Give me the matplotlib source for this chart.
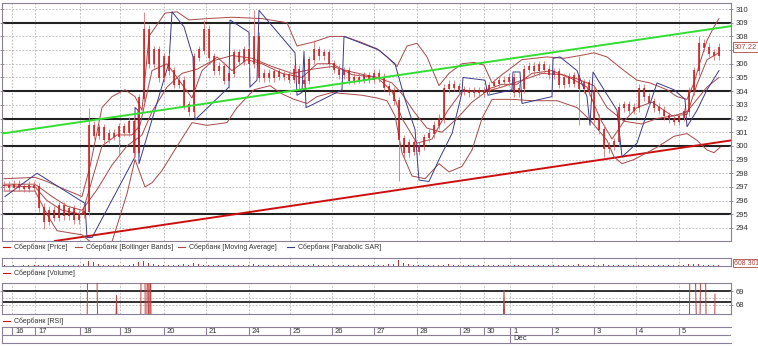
import matplotlib.pyplot as plt
from matplotlib.lines import Line2D
import numpy as np

W, H = 758, 346

# ---- data (x axis = time slot position, 0..729) ----
day_pos = [10, 33, 78, 118, 162, 204, 247, 288, 330, 372, 415, 458, 482, 508, 550, 592, 634, 677]
day_lab = ["16", "17", "18", "19", "20", "21", "24", "25", "26", "27", "28", "29", "30",
           "1", "2", "3", "4", "5"]

# close of each price bar (one bar every 5 slots)
close = [297.1, 297.0, 297.2, 297.0, 296.9, 297.1, 297.0,
         295.5, 294.5, 295.3, 294.8, 295.6, 294.9, 295.4, 294.6, 295.0, 295.2,
         301.5, 300.8, 301.3, 300.5, 300.9, 300.7, 301.4, 301.0, 301.8, 299.5, 303.5,
         308.5, 306.0, 307.0, 305.0, 306.5, 305.5, 304.5, 304.8, 303.0, 302.5,
         306.5, 307.0, 308.5, 306.5, 305.5, 305.8, 304.8, 305.3, 306.8, 306.2, 307.0, 306.0, 308.0,
         305.0, 305.3, 305.0, 305.4, 305.1, 305.2, 304.9, 305.6, 304.6, 304.8,
         306.3, 307.0, 306.6, 306.8, 306.0, 305.6, 305.2, 305.5, 304.8, 305.0, 304.9, 305.1,
         304.9, 305.3, 305.0,
         304.3, 304.0, 303.3, 300.5, 299.5, 300.2, 299.6, 300.0, 300.6, 300.9, 301.5, 302.0,
         304.2, 304.5, 304.3, 304.1, 304.0, 303.9, 304.0, 303.9, 304.0, 304.4, 304.6, 304.8,
         304.7, 305.0,
         303.9, 304.2, 305.6, 305.8, 305.5, 305.9, 305.6, 305.2, 305.4, 304.5, 305.0, 304.6,
         305.1, 304.2, 304.6, 304.0,
         302.0, 301.2, 299.8, 300.0, 300.3, 302.8, 303.0, 302.6, 302.8, 304.2, 303.6, 303.2,
         302.8, 302.6, 302.2, 302.0, 301.8, 302.1, 302.5,
         304.0, 305.5, 307.5, 307.2, 306.8, 306.6, 307.2]
hi_bar = [17, 28, 40, 50, 62, 115, 139]
hi_val = [302.8, 309.8, 309.2, 309.9, 307.7, 306.6, 308.0]
lo_bar = [8, 23, 26, 45, 59, 79, 115, 120]
lo_val = [293.9, 299.4, 299.1, 304.2, 304.1, 297.4, 301.5, 299.2]

bb_up_x = [2, 33, 45, 60, 80, 88, 100, 110, 123, 133, 140, 147, 163, 175, 187, 205, 230, 260,
           285, 295, 312, 328, 342, 358, 375, 385, 395, 405, 415, 425, 437, 447, 460, 472, 482,
           490, 500, 520, 545, 562, 578, 592, 605, 622, 635, 648, 665, 675, 685, 692, 698, 705,
           712, 717]
bb_up = [297.6, 297.7, 297.4, 296.9, 296.3, 298.5, 302.8, 303.6, 304.1, 303.6, 302.6, 308.0,
         309.7, 309.8, 309.2, 309.3, 309.4, 309.3, 309.0, 307.3, 307.6, 308.0, 308.0, 307.6,
         307.1, 306.5, 305.8, 307.3, 307.5, 306.5, 304.4, 305.3, 306.0, 306.1, 305.9, 304.6,
         305.2, 306.3, 306.5, 306.4, 306.6, 306.8, 306.5, 305.5, 304.8, 304.6, 304.1, 303.6,
         303.4, 304.6, 306.1, 307.7, 308.7, 309.3]
bb_mid_x = [2, 33, 50, 65, 80, 95, 110, 125, 140, 150, 165, 180, 195, 210, 230, 250, 270, 290,
            310, 330, 350, 375, 390, 400, 412, 425, 440, 455, 470, 485, 500, 520, 540, 560, 575,
            592, 605, 622, 640, 655, 672, 685, 695, 705, 717]
bb_mid = [297.2, 297.2, 296.3, 295.6, 295.3, 296.8, 298.6, 300.0, 300.8, 302.5, 304.3, 305.3,
          305.6, 306.2, 306.6, 306.4, 305.8, 305.3, 305.6, 305.8, 305.4, 305.0, 304.6, 303.8,
          302.5, 301.3, 301.0, 302.0, 303.2, 304.0, 304.3, 304.8, 305.3, 305.2, 304.9, 304.4,
          302.8, 301.8, 301.6, 302.0, 302.2, 302.5, 303.4, 304.3, 305.0]
bb_lo_x = [2, 33, 45, 55, 80, 95, 110, 125, 133, 143, 150, 160, 177, 190, 205, 225, 235, 252,
           268, 280, 292, 305, 315, 330, 345, 360, 375, 385, 393, 400, 410, 423, 437, 447, 460,
           470, 480, 490, 510, 530, 555, 575, 588, 605, 612, 620, 632, 655, 672, 685, 695, 705,
           712, 718]
bb_lo = [296.7, 296.7, 295.0, 293.8, 293.5, 292.6, 293.0, 296.5, 299.0, 297.0, 297.3, 298.2,
         300.2, 301.7, 301.5, 301.7, 302.8, 304.1, 304.4, 303.8, 303.4, 303.1, 303.6, 303.9,
         303.8, 303.7, 303.5, 303.3, 302.2, 299.5, 297.8, 297.6, 298.7, 298.1, 298.5, 299.7,
         302.0, 303.4, 303.4, 303.3, 303.3, 302.8, 301.9, 300.4, 299.2, 298.7, 299.0, 299.9,
         300.7, 300.9, 300.4, 299.7, 299.5, 299.9]
ma_x = [2, 33, 45, 60, 80, 90, 100, 115, 130, 138, 150, 165, 180, 190, 200, 215, 230, 245, 260,
        280, 300, 315, 330, 350, 375, 390, 400, 415, 430, 445, 460, 480, 500, 515, 530, 550, 570,
        585, 598, 610, 622, 635, 650, 670, 685, 695, 705, 717]
ma = [297.1, 297.0, 296.0, 295.3, 295.0, 297.5, 300.0, 300.8, 300.8, 301.5, 305.5, 306.0,
      304.5, 303.5, 305.5, 306.5, 305.5, 306.3, 306.0, 305.3, 305.0, 306.0, 306.0, 305.2,
      305.0, 304.0, 302.0, 300.2, 300.5, 302.5, 304.0, 304.0, 304.5, 304.5, 305.3, 305.5,
      304.9, 304.3, 302.0, 300.5, 301.8, 302.8, 303.2, 302.2, 302.3, 304.5, 306.3, 306.8]
sar_x = [3, 35, 83, 85, 90, 133, 133, 136, 137, 167, 170, 182, 191, 193, 227, 228, 247, 248,
         255, 257, 293, 295, 300, 302, 304, 310, 340, 342, 377, 393, 403, 413, 417, 427, 437,
         450, 460, 461, 483, 486, 510, 511, 518, 520, 550, 551, 558, 575, 585, 588, 591, 602,
         615, 620, 635, 655, 672, 683, 685, 695, 705, 717]
sar = [296.3, 298.0, 295.8, 293.3, 293.3, 299.2, 302.8, 302.6, 298.7, 306.1, 309.8, 308.7,
       306.5, 301.9, 304.3, 309.2, 308.3, 304.3, 304.8, 309.9, 306.8, 303.7, 303.9, 306.9,
       302.8, 303.0, 304.1, 308.0, 307.0, 306.0, 303.4, 301.2, 297.5, 297.4, 299.0, 300.9,
       303.9, 305.0, 304.8, 303.7, 304.1, 305.4, 305.4, 303.1, 303.6, 306.4, 306.5, 305.5,
       303.6, 301.5, 305.4, 304.1, 302.6, 299.2, 300.2, 304.6, 304.1, 303.4, 301.4, 302.6,
       304.1, 305.5]
green_x, green_y = [0, 729], [300.9, 308.75]
red_x, red_y = [53, 729], [293.05, 300.4]
levels = [295, 300, 302, 304, 309]
last_price = 307.22

vol = [60, 40, 50, 30, 45, 50, 70, 120, 90, 80,
       60, 70, 50, 90, 60, 80, 150, 420, 300, 180,
       120, 90, 110, 80, 100, 90, 160, 350, 380, 260,
       140, 120, 100, 90, 80, 110, 130, 90, 240, 180,
       120, 100, 90, 80, 70, 90, 100, 80, 120, 100,
       140, 110, 80, 60, 70, 60, 50, 60, 70, 90,
       80, 120, 140, 90, 70, 60, 80, 70, 60, 50,
       60, 70, 50, 60, 80, 90, 110, 130, 150, 520,
       260, 140, 100, 90, 80, 90, 70, 80, 100, 160,
       90, 70, 60, 50, 60, 70, 60, 50, 80, 70,
       60, 90, 120, 80, 70, 60, 70, 60, 50, 60,
       70, 80, 60, 90, 80, 130, 90, 100, 120, 110,
       130, 90, 70, 120, 80, 60, 70, 60, 90, 70,
       60, 50, 60, 50, 60, 70, 80, 140, 160, 130,
       100, 90, 70, 80]  # thousands

rsi_x = [2, 84, 87, 93, 98, 112, 114.5, 117, 138, 140, 142, 144, 145.5, 147.5, 148, 150, 152,
         499, 502, 505, 686, 689, 691, 694, 697, 700, 702, 706, 711, 713]
rsi = [45, 55, 85, 80, 55, 60, 68.7, 60, 55, 85, 85, 55, 75, 60, 75, 60, 50,
       60, 69.1, 60, 55, 80, 80, 68.0, 60, 80, 80, 55, 55, 68.8]

# ---- style ----
frame = "#8a8098"
grid_c = "#b4b4b4"
price_c = "#d01010"
band_c = "#a84848"
sar_c = "#3a3a8c"
txt_c = "#333333"
plt.rcParams["font.family"] = ["Liberation Sans", "DejaVu Sans"]


def rect(x0, y0, x1, y1):
    return [x0 / W, 1 - y1 / H, (x1 - x0) / W, (y1 - y0) / H]


def style_frame(a):
    for s in a.spines.values():
        s.set_color(frame)
        s.set_linewidth(0.8)


def vgrid(a):
    for d in day_pos:
        a.axvline(d, color=grid_c, ls=(0, (2, 2)), lw=0.6, zorder=0)


fig = plt.figure(figsize=(W / 100, H / 100), dpi=100)

# ---- main price panel ----
ax = fig.add_axes(rect(2, 3, 731, 241))
ax.set_xlim(0, 729)
ax.set_ylim(293.05, 310.44)
for p in range(294, 311):
    ax.axhline(p, color=grid_c, ls=(0, (2, 2)), lw=0.6, zorder=0)
vgrid(ax)
for lv in levels:
    ax.axhline(lv, color="#222222", lw=1.5, zorder=1)

ax.plot(red_x, red_y, color="#cc1010", lw=1.4, zorder=2)
ax.plot(bb_up_x, bb_up, color=band_c, lw=0.7, zorder=3)
ax.plot(bb_mid_x, bb_mid, color=band_c, lw=0.7, zorder=3)
ax.plot(bb_lo_x, bb_lo, color=band_c, lw=0.7, zorder=3)
ax.plot(ma_x, ma, color=band_c, lw=0.7, zorder=3)
ax.plot(sar_x, sar, color=sar_c, lw=0.7, zorder=3)

bar_x = 2 + 5 * np.arange(len(close))
opens = [close[0]] + close[:-1]
highs = [max(o, c) + 0.3 for o, c in zip(opens, close)]
lows = [min(o, c) - 0.3 for o, c in zip(opens, close)]
for i, v in zip(hi_bar, hi_val):
    highs[i] = v
for i, v in zip(lo_bar, lo_val):
    lows[i] = v
ax.vlines(bar_x, lows, highs, color="#e07070", lw=0.6, zorder=4)
ax.vlines(bar_x, np.minimum(opens, close) - 0.05, np.maximum(opens, close) + 0.05,
          color=price_c, lw=1.1, zorder=4)
ax.plot(green_x, green_y, color="#33dd33", lw=1.4, zorder=5)

ax.set_xticks([])
ax.set_yticks(range(294, 311))
ax.set_yticklabels(["" if p == round(last_price) else str(p) for p in range(294, 311)])
ax.tick_params(axis="y", left=True, right=True, labelleft=False, labelright=True,
               direction="inout", length=3, width=0.6, color=frame,
               labelsize=5.5, labelcolor=txt_c, pad=1.5)
style_frame(ax)
ax.text(1.004, last_price, f"{last_price:.2f}", transform=ax.get_yaxis_transform(),
        ha="left", va="center", fontsize=5.5, color="#b04848", zorder=10,
        bbox=dict(boxstyle="square,pad=0.15", fc="white", ec="#b04848", lw=0.6))

# ---- volume panel ----
av = fig.add_axes(rect(2, 258, 731, 266))
av.set_xlim(0, 729)
av.set_ylim(0, 650)
vgrid(av)
av.bar(bar_x, vol, width=1.0, color="#c03030", zorder=2)
av.set_xticks([])
av.set_yticks([])
style_frame(av)
av.text(1.004, 0.35, "608 301", transform=av.transAxes, ha="left", va="center",
        fontsize=5, color="#b04848",
        bbox=dict(boxstyle="square,pad=0.1", fc="white", ec="#b04848", lw=0.6))

# ---- RSI panel ----
ar = fig.add_axes(rect(2, 283, 731, 314))
ar.set_xlim(0, 729)
ar.set_ylim(67.33, 69.63)
vgrid(ar)
for p in [69, 68.5, 68]:
    ar.axhline(p, color=grid_c, ls=(0, (2, 2)), lw=0.6, zorder=0)
for p in [69, 68.25]:
    ar.axhline(p, color="#222222", lw=1.3, zorder=1)
ar.plot(rsi_x, rsi, color="#c04040", lw=0.7, zorder=3)
ar.set_xticks([])
ar.set_yticks([68, 69])
ar.tick_params(axis="y", left=True, right=True, labelleft=False, labelright=True,
               direction="inout", length=3, width=0.6, color=frame,
               labelsize=5.5, labelcolor=txt_c, pad=1.5)
style_frame(ar)

# ---- date strip ----
ad = fig.add_axes(rect(2, 327, 731, 343))
ad.set_xlim(0, 729)
ad.set_ylim(0, 1)
ad.axhline(0.5, color=frame, lw=0.8)
for d, lab in zip(day_pos, day_lab):
    ad.vlines(d, 0.5, 1, color=frame, lw=0.8)
    ad.text(d + 3, 0.74, lab, fontsize=5.5, color=txt_c, va="center", ha="left")
ad.vlines(day_pos[day_lab.index("1")], 0, 1, color=frame, lw=0.8)
ad.text(day_pos[day_lab.index("1")] + 3, 0.25, "Dec", fontsize=5.5, color=txt_c,
        va="center", ha="left")
ad.set_xticks([])
ad.set_yticks([])
style_frame(ad)
ad.spines["right"].set_visible(False)


# ---- legends ----
def legend_item(x, y, color, label):
    fig.add_artist(Line2D([x / W, (x + 7) / W], [1 - y / H, 1 - y / H],
                          color=color, lw=0.8, transform=fig.transFigure))
    fig.text((x + 11) / W, 1 - y / H, label, fontsize=5, color=txt_c,
             va="center", ha="left")


legend_item(3, 247, price_c, "Сбербанк [Price]")
legend_item(75, 247, band_c, "Сбербанк [Bollinger Bands]")
legend_item(178, 247, band_c, "Сбербанк [Moving Average]")
legend_item(287, 247, sar_c, "Сбербанк [Parabolic SAR]")
legend_item(3, 273, price_c, "Сбербанк [Volume]")
legend_item(3, 321, price_c, "Сбербанк [RSI]")

fig.savefig("out.png", dpi=100)
